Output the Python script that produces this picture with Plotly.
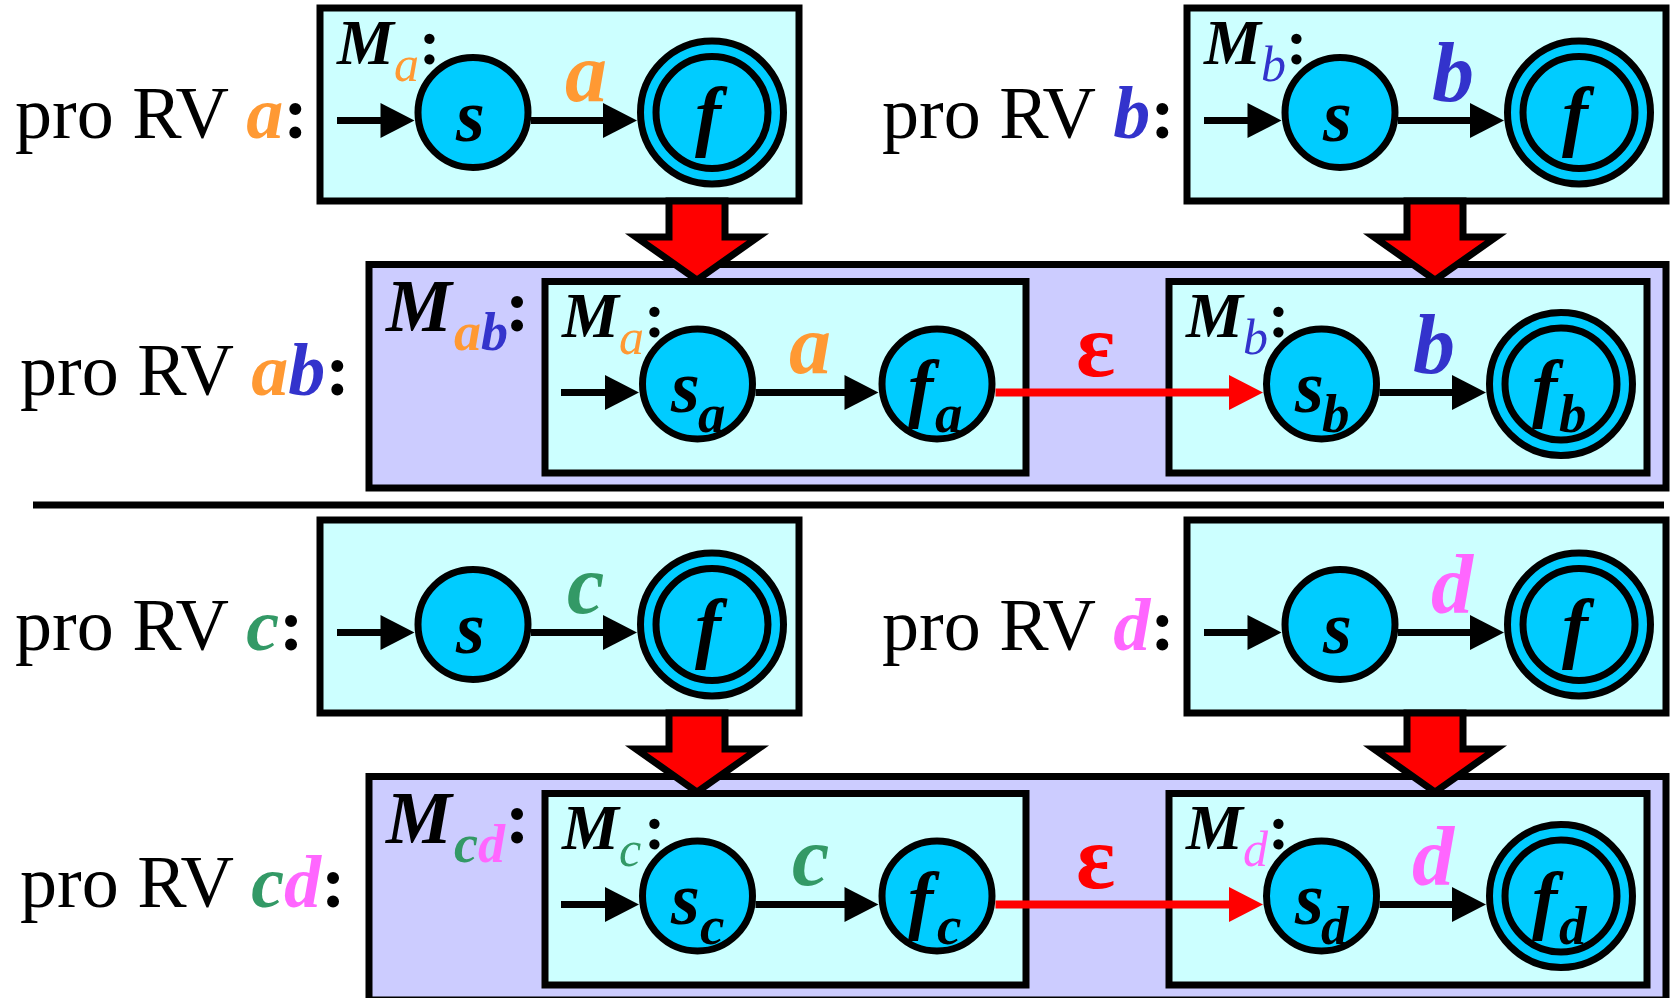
import plotly.graph_objects as go

# ---------------- data ----------------
symbols = ["a", "b", "c", "d"]              # one-symbol regular expressions
concat_pairs = [("a", "b"), ("c", "d")]     # concatenations built from them
prefix_text = "pro RV"
start_state = "s"
final_state = "f"
machine_name = "M"
epsilon_label = "ε"

# ---------------- styles ----------------
sym_color = {"a": "#FF9933", "b": "#3333CC", "c": "#339966", "d": "#FF66FF"}
BOX_FILL = "#CCFFFF"
OUTER_FILL = "#CCCCFF"
STATE_FILL = "#00CCFF"
RED = "#FF0000"
FONT = "Liberation Serif"
W, H = 1671, 998
LW = 7
K = 0.3375  # baseline -> middle offset (em)

fig = go.Figure()
shapes = []


def add_text(x, baseline, text, size, color="black", anchor="left", bold=False, italic=False):
    t = text
    if italic:
        t = f"<i>{t}</i>"
    if bold:
        t = f"<b>{t}</b>"
    fig.add_annotation(x=x, y=baseline - K * size, xref="x", yref="y", text=t,
                       xanchor=anchor, yanchor="middle", showarrow=False,
                       borderpad=0, borderwidth=0,
                       font=dict(family=FONT, size=size, color=color))


def colored(sym):
    return f"<span style='color:{sym_color[sym]}'>{sym}</span>"


def rect(x0, y0, x1, y1, fill):
    shapes.append(dict(type="rect", x0=x0, y0=y0, x1=x1, y1=y1, xref="x", yref="y",
                       fillcolor=fill, line=dict(color="black", width=LW)))


def circle(cx, cy, r, lw=LW):
    shapes.append(dict(type="circle", x0=cx - r, y0=cy - r, x1=cx + r, y1=cy + r,
                       xref="x", yref="y", fillcolor=STATE_FILL,
                       line=dict(color="black", width=lw)))


def arrow(x_from, x_to, y, color="black", lw=LW, hl=34, hw=17.5):
    shapes.append(dict(type="line", x0=x_from, y0=y, x1=x_to - hl + 2, y1=y, xref="x", yref="y",
                       line=dict(color=color, width=lw)))
    shapes.append(dict(type="path", xref="x", yref="y",
                       path=f"M {x_to - hl},{y - hw} L {x_to},{y} L {x_to - hl},{y + hw} Z",
                       fillcolor=color, line=dict(color=color, width=0)))


def big_arrow(cx, y_top, y_tip):
    sw, hw, hb = 28, 61, y_tip - 43
    p = (f"M {cx - sw},{y_top} L {cx + sw},{y_top} L {cx + sw},{hb} L {cx + hw},{hb} "
         f"L {cx},{y_tip} L {cx - hw},{hb} L {cx - sw},{hb} Z")
    shapes.append(dict(type="path", path=p, xref="x", yref="y", fillcolor=RED,
                       line=dict(color="black", width=LW)))


def m_label(x0, y0, sub_html, big=False):
    if big:
        add_text(x0, y0, machine_name, 74, bold=True, italic=True)
        add_text(x0 + 69, y0 + 19, sub_html, 54, bold=True, italic=True)
        add_text(x0 + 120, y0, ":", 74, bold=True)
    else:
        add_text(x0, y0, machine_name, 64, bold=True, italic=True)
        add_text(x0 + 58, y0 + 17, sub_html, 50, italic=True)
        add_text(x0 + 83, y0, ":", 64, bold=True)


BOX_W, BOX_H = 479, 193
SINGLE_X0 = [320, 1187]
TEXT_X = [15, 882]
INNER_X0 = [545, 1169]
INNER_X1 = [1026, 1647]
BIG_ARROW_X = [697, 1435]
ROW_SHIFT = 512

for p, pair in enumerate(concat_pairs):
    dy = p * ROW_SHIFT
    # ---------- outer combined machine (drawn first) ----------
    rect(369, 264.5 + dy, 1666, 488 + dy, OUTER_FILL)
    # ---------- single-symbol machines ----------
    for k, sym in enumerate(pair):
        x0, y0 = SINGLE_X0[k], 8 + dy
        rect(x0, y0, x0 + BOX_W, y0 + BOX_H, BOX_FILL)
        s_cx, f_cx, cy = x0 + 153, x0 + 392, y0 + 104.5
        ay = y0 + 112.5
        arrow(x0 + 17, s_cx - 58.5, ay)
        arrow(s_cx + 58, f_cx - 75, ay)
        circle(s_cx, cy, 55)
        circle(f_cx, cy, 71.5)
        circle(f_cx, cy, 56)
        add_text(TEXT_X[k], y0 + 130,
                 f"{prefix_text} <b><i>{colored(sym)}</i></b><b>:</b>", 74)
        add_text((s_cx + f_cx) / 2 - 7, y0 + 93, sym, 84, sym_color[sym], "center", True, True)
        add_text(s_cx - 3, y0 + 133, start_state, 74, "black", "center", True, True)
        add_text(f_cx - 1, y0 + 133, final_state, 78, "black", "center", True, True)
        if p == 0:
            m_label(x0 + 16, y0 + 56, colored(sym))
    # ---------- inner copies in combined machine ----------
    yi0 = 281.5 + dy
    cy = 384 + dy
    ay = 392.5 + dy
    centers = []
    for k, sym in enumerate(pair):
        xi0 = INNER_X0[k]
        rect(xi0, yi0, INNER_X1[k], 473 + dy, BOX_FILL)
        s_cx, f_cx = xi0 + 152.5, xi0 + 392
        centers.append((s_cx, f_cx))
        if k == 0:
            arrow(xi0 + 16, s_cx - 58.5, ay)
        f_r = 71.5 if k == 1 else 55
        arrow(s_cx + 58, f_cx - (75 if k == 1 else 58.5), ay)
        circle(s_cx, cy, 55)
        circle(f_cx, cy, f_r)
        if k == 1:
            circle(f_cx, cy, 56)
        m_label(xi0 + 16, yi0 + 55.5, colored(sym))
        add_text((s_cx + f_cx) / 2 - 7, 373 + dy, sym, 84, sym_color[sym], "center", True, True)
        add_text(s_cx - 13, 412 + dy, start_state, 74, "black", "center", True, True)
        add_text(s_cx + 14, 432 + dy, sym, 55, "black", "center", True, True)
        add_text(f_cx - 13, 413 + dy, final_state, 76, "black", "center", True, True)
        add_text(f_cx + 12, 432 + dy, sym, 55, "black", "center", True, True)
    # epsilon transition
    arrow(centers[0][1] + 58.5, centers[1][0] - 58.5, ay, color=RED, lw=8)
    add_text(1095, 376 + dy, epsilon_label, 92, RED, "center", True, False)
    # combined labels
    m_label(385, 331 + dy, colored(pair[0]) + colored(pair[1]), big=True)
    add_text(20, 395 + dy,
             f"{prefix_text} <b><i>{colored(pair[0])}{colored(pair[1])}</i></b><b>:</b>", 74)
    # big red construction arrows
    for bx in BIG_ARROW_X:
        big_arrow(bx, 201 + dy, 280 + dy)

# separator
shapes.append(dict(type="line", x0=33, y0=505, x1=1664, y1=505, xref="x", yref="y",
                   line=dict(color="black", width=LW)))

fig.update_layout(
    width=W, height=H, margin=dict(l=0, r=0, t=0, b=0),
    paper_bgcolor="white", plot_bgcolor="white", showlegend=False,
    xaxis=dict(range=[0, W], visible=False, fixedrange=True),
    yaxis=dict(range=[H, 0], visible=False, fixedrange=True),
    shapes=shapes,
)
fig.write_html("out.html", config={"displayModeBar": False},
               post_script="document.body.style.margin='0';document.body.style.overflow='hidden';")
